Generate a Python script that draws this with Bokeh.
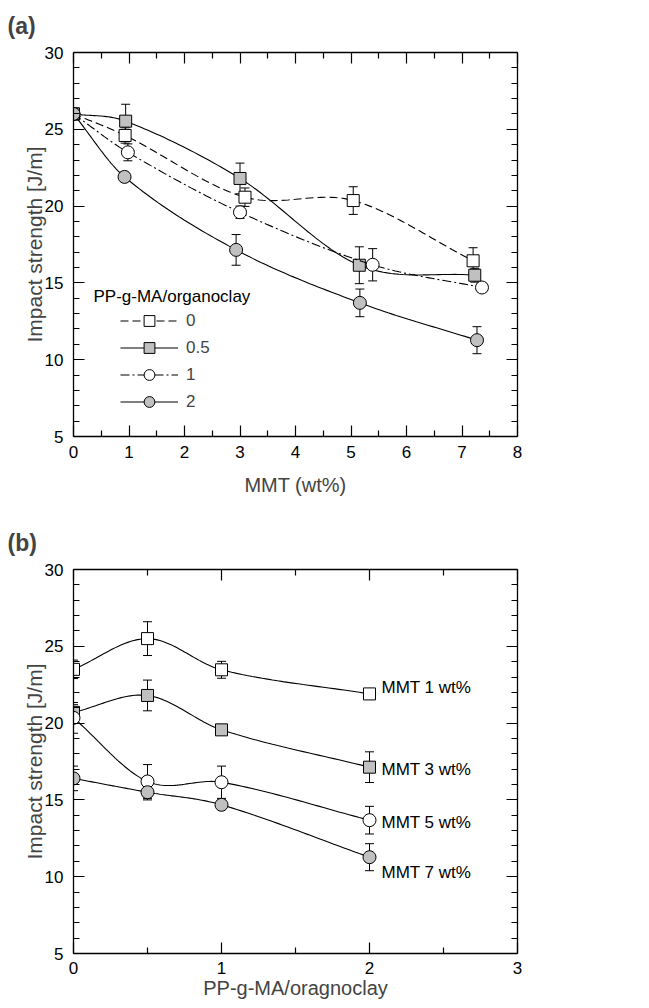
import numpy as np
from bokeh.plotting import figure
from bokeh.layouts import column
from bokeh.models import (Legend, LegendItem, Whisker, TeeHead, ColumnDataSource,
                          LinearAxis, FixedTicker, Label, Range1d)
from bokeh.embed import file_html
from bokeh.resources import INLINE
from bokeh.core.properties import value

# ---------------- data: panel (a) ----------------
a_names = ["0", "0.5", "1", "2"]
a_x_0 = [0.0, 0.93, 3.09, 5.04, 7.20]
a_y_0 = [26.0, 24.6, 20.58, 20.36, 16.44]
a_e_0 = [0.2, 0.5, 0.6, 0.9, 0.85]

a_x_05 = [0.0, 0.94, 3.00, 5.15, 7.23]
a_y_05 = [26.0, 25.53, 21.8, 16.15, 15.5]
a_e_05 = [0.2, 1.1, 1.0, 1.2, 0.45]

a_x_1 = [0.0, 0.98, 3.00, 5.39, 7.36]
a_y_1 = [26.0, 23.5, 19.6, 16.18, 14.7]
a_e_1 = [0.2, 0.55, 0.4, 1.05, 0.3]

a_x_2 = [0.0, 0.92, 2.93, 5.16, 7.27]
a_y_2 = [26.0, 21.9, 17.15, 13.7, 11.27]
a_e_2 = [0.2, 0.3, 1.0, 0.9, 0.88]

# ---------------- data: panel (b) ----------------
b_x = [0.0, 0.5, 1.0, 2.0]
b_names = ["MMT 1 wt%", "MMT 3 wt%", "MMT 5 wt%", "MMT 7 wt%"]
b_y_1 = [23.5, 25.5, 23.47, 21.9]
b_e_1 = [0.6, 1.1, 0.55, 0.3]
b_y_3 = [20.7, 21.8, 19.56, 17.13]
b_e_3 = [0.5, 1.0, 0.3, 1.0]
b_y_5 = [20.34, 16.2, 16.15, 13.68]
b_e_5 = [1.0, 1.1, 1.05, 0.9]
b_y_7 = [16.4, 15.5, 14.68, 11.27]
b_e_7 = [0.8, 0.5, 0.3, 0.88]

# ---------------- styles ----------------
GRAY = "#c0c0c0"
FONT = "Liberation Sans"


def smooth(xs, ys, n=30):
    """Cubic Hermite curve through the given points (rendering only)."""
    xs = np.asarray(xs, float)
    ys = np.asarray(ys, float)
    k = len(xs)
    m = np.zeros(k)
    for i in range(k):
        if i == 0:
            m[i] = (ys[1] - ys[0]) / (xs[1] - xs[0])
        elif i == k - 1:
            m[i] = (ys[-1] - ys[-2]) / (xs[-1] - xs[-2])
        else:
            m[i] = (ys[i + 1] - ys[i - 1]) / (xs[i + 1] - xs[i - 1])
    X, Y = [], []
    for i in range(k - 1):
        h = xs[i + 1] - xs[i]
        t = np.linspace(0, 1, n, endpoint=(i == k - 2))
        h00 = 2 * t**3 - 3 * t**2 + 1
        h10 = t**3 - 2 * t**2 + t
        h01 = -2 * t**3 + 3 * t**2
        h11 = t**3 - t**2
        X += list(xs[i] + t * h)
        Y += list(h00 * ys[i] + h10 * h * m[i] + h01 * ys[i + 1] + h11 * h * m[i + 1])
    return X, Y


def make_fig(xmax, xticks, xminor, xlabel, title, top, bottom, tick_standoff, lab_standoff):
    p = figure(frame_width=444, frame_height=384,
               x_range=Range1d(0, xmax), y_range=Range1d(5, 30),
               output_backend="svg", toolbar_location=None,
               min_border_left=73, min_border_right=20,
               min_border_top=top, min_border_bottom=bottom,
               x_axis_location=None, y_axis_location=None, title=title)
    p.grid.visible = False
    p.outline_line_color = None
    p.background_fill_color = "white"
    p.border_fill_color = "white"

    p.title.text_font = FONT
    p.title.text_font_size = "23px"
    p.title.text_font_style = "bold"
    p.title.align = "left"
    p.title.vertical_align = "top"
    p.title.offset = -66
    p.title.standoff = 24

    yt = FixedTicker(ticks=[5, 10, 15, 20, 25, 30],
                     minor_ticks=[v for v in range(5, 31) if v % 5 != 0])
    xt = FixedTicker(ticks=xticks, minor_ticks=xminor)

    def style(ax, labels=True):
        ax.axis_line_color = "black"
        ax.axis_line_width = 1.3
        ax.major_tick_in = 11
        ax.major_tick_out = 0
        ax.minor_tick_in = 6
        ax.minor_tick_out = 0
        ax.major_tick_line_width = 1.2
        ax.minor_tick_line_width = 1.2
        ax.major_tick_line_color = "black"
        ax.minor_tick_line_color = "black"
        if labels:
            ax.major_label_text_font = FONT
            ax.major_label_text_font_size = "17px"
            ax.major_label_text_color = "black"
        else:
            ax.major_label_text_font_size = "1px"
            ax.major_label_text_color = None
            ax.major_label_standoff = 0

    bx = LinearAxis(ticker=xt, axis_label=xlabel)
    style(bx)
    bx.major_label_standoff = tick_standoff
    bx.axis_label_standoff = lab_standoff
    bx.axis_label_text_font = FONT
    bx.axis_label_text_font_size = "20px"
    bx.axis_label_text_font_style = "normal"
    p.add_layout(bx, "below")

    ly = LinearAxis(ticker=yt, axis_label="Impact strength [J/m]")
    style(ly)
    ly.major_label_standoff = 10
    ly.axis_label_standoff = -4
    ly.axis_label_text_font = FONT
    ly.axis_label_text_font_size = "21px"
    ly.axis_label_text_font_style = "normal"
    p.add_layout(ly, "left")

    tx = LinearAxis(ticker=xt)
    style(tx, labels=False)
    p.add_layout(tx, "above")
    ry = LinearAxis(ticker=yt)
    style(ry, labels=False)
    p.add_layout(ry, "right")
    return p


def add_errors(p, xs, ys, es):
    src = ColumnDataSource(dict(x=xs,
                                lo=[y - e for y, e in zip(ys, es)],
                                hi=[y + e for y, e in zip(ys, es)]))
    w = Whisker(base="x", lower="lo", upper="hi", source=src,
                line_color="black", line_width=1,
                lower_head=TeeHead(size=9, line_color="black", line_width=1),
                upper_head=TeeHead(size=9, line_color="black", line_width=1),
                level="underlay")
    p.add_layout(w)


# ---------------- panel (a) ----------------
pa = make_fig(8, list(range(0, 9)), [i + 0.5 for i in range(8)],
              "MMT (wt%)", "(a)", 52, 60, 9, 13)

a_series = [
    (a_x_0, a_y_0, a_e_0, "square", "white", "8 4"),
    (a_x_05, a_y_05, a_e_05, "square", GRAY, "solid"),
    (a_x_1, a_y_1, a_e_1, "circle", "white", "9 3 2 3"),
    (a_x_2, a_y_2, a_e_2, "circle", GRAY, "solid"),
]
items = []
for name, (xs, ys, es, mk, fill, dash) in zip(a_names, a_series):
    add_errors(pa, xs, ys, es)
    cx, cy = smooth(xs, ys)
    ln = pa.line(cx, cy, line_color="black", line_width=1.1, line_dash=dash)
    sc = pa.scatter(xs, ys, marker=mk, size=13 if mk == "circle" else 12,
                    fill_color=fill, line_color="black", line_width=1)
    items.append(LegendItem(label=name, renderers=[ln, sc]))

leg = Legend(items=items, location=(47, 21), glyph_width=58, glyph_height=27,
             spacing=0, label_standoff=8, padding=0, margin=0,
             border_line_color=None, background_fill_alpha=0,
             label_text_font=FONT, label_text_font_size="17px")
pa.add_layout(leg, "center")
pa.add_layout(Label(x=20, y=140, x_units="screen", y_units="screen",
                    text="PP-g-MA/organoclay", text_font=FONT,
                    text_font_size="17px", text_baseline="middle",
                    text_color="black"))

# ---------------- panel (b) ----------------
pb = make_fig(3, [0, 1, 2, 3], [0.5, 1.5, 2.5],
              "PP-g-MA/oragnoclay", "(b)", 71, 54, 8, 0)

b_series = [
    (b_y_1, b_e_1, "square", "white"),
    (b_y_3, b_e_3, "square", GRAY),
    (b_y_5, b_e_5, "circle", "white"),
    (b_y_7, b_e_7, "circle", GRAY),
]
for ys, es, mk, fill in b_series:
    add_errors(pb, b_x, ys, es)
    cx, cy = smooth(b_x, ys)
    pb.line(cx, cy, line_color="black", line_width=1.1)
    pb.scatter(b_x, ys, marker=mk, size=13 if mk == "circle" else 12,
               fill_color=fill, line_color="black", line_width=1)

label_dy = [-6, 2, 2, 15]
lab_src = ColumnDataSource(dict(x=[b_x[-1]] * 4,
                                y=[s[0][-1] for s in b_series],
                                t=b_names, dy=label_dy))
pb.text(x="x", y="y", text="t", y_offset="dy", x_offset=12, source=lab_src,
        text_font=value(FONT), text_font_size="17px",
        text_baseline="middle", text_align="left", text_color="black")

layout = column(pa, pb, spacing=0)
open("out.html", "w").write(file_html(layout, INLINE))
